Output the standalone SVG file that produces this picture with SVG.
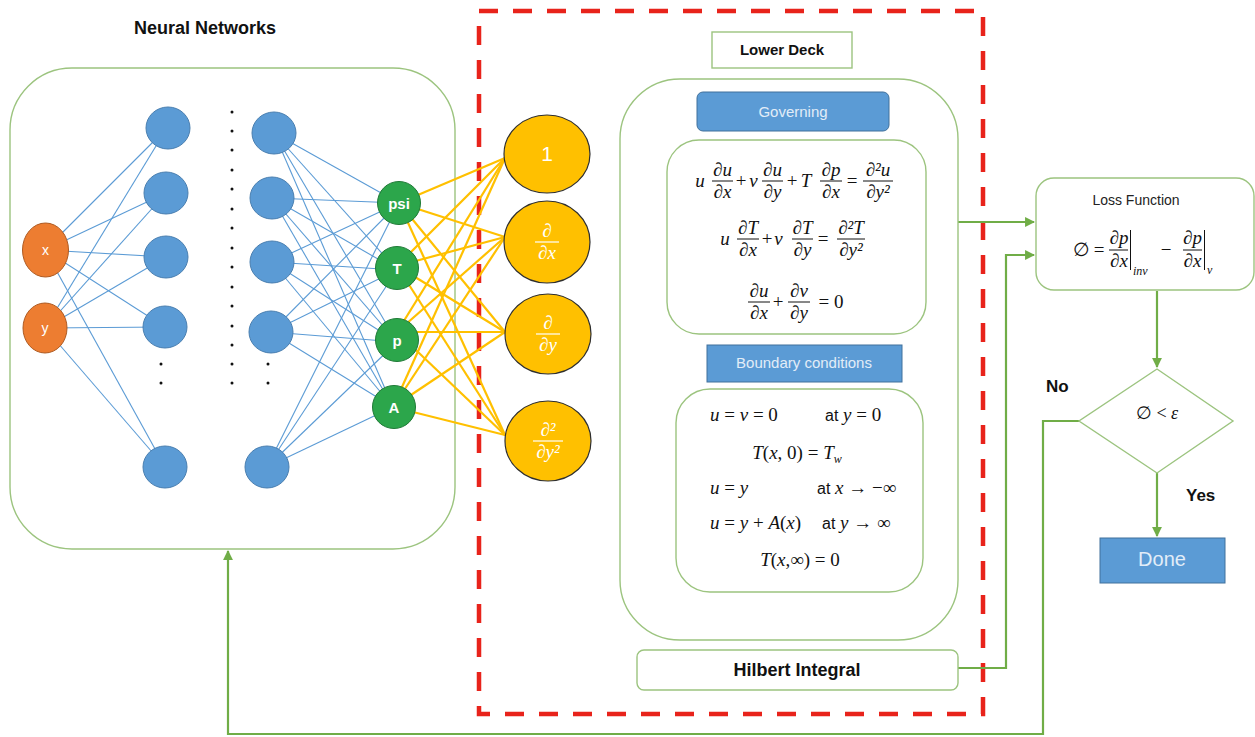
<svg xmlns="http://www.w3.org/2000/svg" width="1255" height="737" viewBox="0 0 1255 737">
<style>
.box{fill:#fff;stroke:#9cc47f;stroke-width:1.4}
.blue{fill:#5b9bd5;stroke:#41719c;stroke-width:1}
.nn{fill:#5b9bd5;stroke:#4a7fb0;stroke-width:1}
.inp{fill:#ed7d31;stroke:#ae5a21;stroke-width:1}
.out{fill:#2ca64b;stroke:#1f7a36;stroke-width:1}
.yel{fill:#ffc000;stroke:#2e2e2e;stroke-width:1.2}
.bl{stroke:#5b9bd5;stroke-width:1.1;fill:none}
.yl{stroke:#ffc000;stroke-width:2.2;fill:none}
.arr{stroke:#70ad47;stroke-width:2.2;fill:none}
.red{fill:none;stroke:#e8231b;stroke-width:4.5;stroke-dasharray:19 15}
.t{font-family:"Liberation Sans",Arial,sans-serif}
.b{font-weight:bold}
.m{font-family:"Liberation Serif","DejaVu Serif",serif;font-size:19px;fill:#111}
.i{font-style:italic}
.c{text-anchor:middle}
.fb{stroke:#111;stroke-width:1}
.wt{fill:#fff}
.lt{fill:#e2edf8}
.dot{fill:#111}
.sub{font-size:12px}
</style>
<defs>
<marker id="ah" viewBox="0 0 10 10" refX="9" refY="5" markerWidth="4.5" markerHeight="4.5" orient="auto" markerUnits="strokeWidth">
<path d="M0,0 L10,5 L0,10 z" fill="#70ad47"/>
</marker>
</defs>

<g id="nn-frame">
<rect class="box" x="10" y="68" width="445" height="481" rx="62"/>
<text class="t b c" x="205" y="34" font-size="18" fill="#111">Neural Networks</text>
</g>

<g id="lower-deck-frame">
<rect class="red" x="479" y="11" width="504" height="703"/>
</g>

<g id="connectors">
<g class="bl">
<line x1="45" y1="250" x2="167" y2="128"/><line x1="45" y1="250" x2="166" y2="193"/><line x1="45" y1="250" x2="166" y2="257"/><line x1="45" y1="250" x2="165" y2="327"/><line x1="45" y1="250" x2="165" y2="467"/>
<line x1="45" y1="328" x2="167" y2="128"/><line x1="45" y1="328" x2="166" y2="193"/><line x1="45" y1="328" x2="166" y2="257"/><line x1="45" y1="328" x2="165" y2="327"/><line x1="45" y1="328" x2="165" y2="467"/>
<line x1="274" y1="133" x2="399" y2="203"/><line x1="274" y1="133" x2="397" y2="270"/><line x1="274" y1="133" x2="397" y2="342"/><line x1="274" y1="133" x2="393" y2="407"/>
<line x1="272" y1="198" x2="399" y2="203"/><line x1="272" y1="198" x2="397" y2="270"/><line x1="272" y1="198" x2="397" y2="342"/><line x1="272" y1="198" x2="393" y2="407"/>
<line x1="272" y1="262" x2="399" y2="203"/><line x1="272" y1="262" x2="397" y2="270"/><line x1="272" y1="262" x2="397" y2="342"/><line x1="272" y1="262" x2="393" y2="407"/>
<line x1="271" y1="332" x2="399" y2="203"/><line x1="271" y1="332" x2="397" y2="270"/><line x1="271" y1="332" x2="397" y2="342"/><line x1="271" y1="332" x2="393" y2="407"/>
<line x1="267" y1="467" x2="399" y2="203"/><line x1="267" y1="467" x2="397" y2="270"/><line x1="267" y1="467" x2="397" y2="342"/><line x1="267" y1="467" x2="393" y2="407"/>
</g>
<g class="yl">
<line x1="399" y1="203" x2="505" y2="158"/><line x1="399" y1="203" x2="505" y2="237"/><line x1="399" y1="203" x2="505" y2="332"/><line x1="399" y1="203" x2="505" y2="435"/>
<line x1="397" y1="266" x2="505" y2="158"/><line x1="397" y1="266" x2="505" y2="237"/><line x1="397" y1="266" x2="505" y2="332"/><line x1="397" y1="266" x2="505" y2="435"/>
<line x1="397" y1="332" x2="505" y2="158"/><line x1="397" y1="332" x2="505" y2="237"/><line x1="397" y1="332" x2="505" y2="332"/><line x1="397" y1="332" x2="505" y2="435"/>
<line x1="393" y1="407" x2="505" y2="158"/><line x1="393" y1="407" x2="505" y2="237"/><line x1="393" y1="407" x2="505" y2="332"/><line x1="393" y1="407" x2="505" y2="435"/>
</g>
<path class="arr" d="M958,222 H1034" marker-end="url(#ah)"/>
<path class="arr" d="M958,668 H1006 V255 H1034" marker-end="url(#ah)"/>
<path class="arr" d="M1157,291 V367" marker-end="url(#ah)"/>
<path class="arr" d="M1157,473 V536" marker-end="url(#ah)"/>
<path class="arr" d="M1079,421 H1043 V734 H228 V551" marker-end="url(#ah)"/>
</g>

<g id="node-x"><ellipse class="inp" cx="45.5" cy="250" rx="23" ry="27"/><text class="t c wt" x="45.5" y="255" font-size="14">x</text></g>
<g id="node-y"><ellipse class="inp" cx="45" cy="328" rx="22" ry="25"/><text class="t c wt" x="45" y="333" font-size="14">y</text></g>

<g id="hidden-1">
<ellipse class="nn" cx="168" cy="128" rx="22" ry="21"/>
<ellipse class="nn" cx="166" cy="193" rx="22" ry="21"/>
<ellipse class="nn" cx="166" cy="257" rx="22" ry="21"/>
<ellipse class="nn" cx="165" cy="327" rx="22" ry="21"/>
<ellipse class="nn" cx="165" cy="467" rx="22" ry="21"/>
<circle class="dot" cx="161" cy="364" r="1.5"/><circle class="dot" cx="161" cy="383" r="1.5"/>
</g>
<g id="dots-middle">
<circle class="dot" cx="232" cy="112" r="1.5"/><circle class="dot" cx="232" cy="131" r="1.5"/><circle class="dot" cx="232" cy="150" r="1.5"/><circle class="dot" cx="232" cy="170" r="1.5"/><circle class="dot" cx="232" cy="189" r="1.5"/><circle class="dot" cx="232" cy="209" r="1.5"/><circle class="dot" cx="232" cy="228" r="1.5"/><circle class="dot" cx="232" cy="248" r="1.5"/><circle class="dot" cx="232" cy="267" r="1.5"/><circle class="dot" cx="232" cy="287" r="1.5"/><circle class="dot" cx="232" cy="306" r="1.5"/><circle class="dot" cx="232" cy="326" r="1.5"/><circle class="dot" cx="232" cy="345" r="1.5"/><circle class="dot" cx="232" cy="364" r="1.5"/><circle class="dot" cx="232" cy="383" r="1.5"/>
</g>
<g id="hidden-n">
<ellipse class="nn" cx="274" cy="133" rx="22" ry="21"/>
<ellipse class="nn" cx="272" cy="198" rx="22" ry="21"/>
<ellipse class="nn" cx="272" cy="262" rx="22" ry="21"/>
<ellipse class="nn" cx="271" cy="332" rx="22" ry="21"/>
<ellipse class="nn" cx="267" cy="467" rx="22" ry="21"/>
<circle class="dot" cx="268" cy="364" r="1.5"/><circle class="dot" cx="268" cy="383" r="1.5"/>
</g>

<g id="node-psi"><circle class="out" cx="399" cy="203" r="21.5"/><text class="t b c wt" x="399" y="208.5" font-size="15">psi</text></g>
<g id="node-T"><circle class="out" cx="397" cy="268" r="21.5"/><text class="t b c wt" x="397" y="273.5" font-size="15">T</text></g>
<g id="node-p"><circle class="out" cx="397" cy="340" r="21.5"/><text class="t b c wt" x="397" y="345.5" font-size="15">p</text></g>
<g id="node-A"><circle class="out" cx="394" cy="407" r="21.5"/><text class="t b c wt" x="394" y="412.5" font-size="15">A</text></g>

<g id="op-1"><ellipse class="yel" cx="547" cy="154" rx="43" ry="39"/><text class="t c wt" x="547" y="161" font-size="21">1</text></g>
<g id="op-dx"><ellipse class="yel" cx="547" cy="242" rx="43" ry="41"/>
<text class="m i c wt" x="547" y="237">∂</text><line x1="535" y1="242" x2="559" y2="242" stroke="#fff" stroke-width="1.2"/><text class="m i c wt" x="547" y="259">∂x</text></g>
<g id="op-dy"><ellipse class="yel" cx="548" cy="334" rx="43" ry="40"/>
<text class="m i c wt" x="548" y="329">∂</text><line x1="536" y1="334" x2="560" y2="334" stroke="#fff" stroke-width="1.2"/><text class="m i c wt" x="548" y="351">∂y</text></g>
<g id="op-dyy"><ellipse class="yel" cx="548" cy="441" rx="43" ry="40"/>
<text class="m i c wt" x="548" y="436">∂²</text><line x1="533" y1="441" x2="563" y2="441" stroke="#fff" stroke-width="1.2"/><text class="m i c wt" x="548" y="458">∂y²</text></g>

<g id="lower-deck-label">
<rect class="box" x="712" y="32" width="140" height="36"/>
<text class="t b c" x="782" y="55" font-size="15" fill="#111">Lower Deck</text>
</g>
<g id="lower-deck-panel">
<rect class="box" x="620" y="79" width="338" height="561" rx="60"/>
</g>

<g id="governing-label">
<rect class="blue" x="697" y="92" width="192" height="39" rx="6"/>
<text class="t c lt" x="793" y="117" font-size="15">Governing</text>
</g>

<g id="governing-eqs">
<rect class="box" x="667" y="140" width="259" height="194" rx="32"/>
<text class="m i c" x="700" y="187">u</text>
<text class="m i c" x="722.5" y="176">∂u</text><line class="fb" x1="712" y1="181" x2="733" y2="181"/><text class="m i c" x="722.5" y="198">∂x</text>
<text class="m c" x="741" y="187">+</text>
<text class="m i c" x="753.5" y="187">v</text>
<text class="m i c" x="772.5" y="176">∂u</text><line class="fb" x1="762" y1="181" x2="783" y2="181"/><text class="m i c" x="772.5" y="198">∂y</text>
<text class="m c" x="792" y="187">+</text>
<text class="m i c" x="806" y="187">T</text>
<text class="m i c" x="831" y="176">∂p</text><line class="fb" x1="820" y1="181" x2="842" y2="181"/><text class="m i c" x="831" y="198">∂x</text>
<text class="m c" x="852" y="187">=</text>
<text class="m i c" x="878" y="176">∂²u</text><line class="fb" x1="863" y1="181" x2="893" y2="181"/><text class="m i c" x="878" y="198">∂y²</text>
<text class="m i c" x="725" y="245">u</text>
<text class="m i c" x="748" y="234">∂T</text><line class="fb" x1="737" y1="239" x2="759" y2="239"/><text class="m i c" x="748" y="256">∂x</text>
<text class="m c" x="767" y="245">+</text>
<text class="m i c" x="778.5" y="245">v</text>
<text class="m i c" x="802.5" y="234">∂T</text><line class="fb" x1="792" y1="239" x2="813" y2="239"/><text class="m i c" x="802.5" y="256">∂y</text>
<text class="m c" x="823" y="245">=</text>
<text class="m i c" x="851" y="234">∂²T</text><line class="fb" x1="837" y1="239" x2="865" y2="239"/><text class="m i c" x="851" y="256">∂y²</text>
<text class="m i c" x="759" y="297">∂u</text><line class="fb" x1="748" y1="302" x2="770" y2="302"/><text class="m i c" x="759" y="319">∂x</text>
<text class="m c" x="778" y="308">+</text>
<text class="m i c" x="799" y="297">∂v</text><line class="fb" x1="788" y1="302" x2="810" y2="302"/><text class="m i c" x="799" y="319">∂y</text>
<text class="m c" x="831" y="308">= 0</text>
</g>

<g id="boundary-label">
<rect class="blue" x="707" y="345" width="195" height="37"/>
<text class="t c lt" x="804" y="368" font-size="15">Boundary conditions</text>
</g>

<g id="boundary-eqs">
<rect class="box" x="676" y="389" width="247" height="203" rx="34"/>
<text class="m" x="710" y="421"><tspan class="i">u</tspan> = <tspan class="i">v</tspan> = 0</text>
<text class="m" x="825" y="421"><tspan class="t" style="font-size:16px">at</tspan>  <tspan class="i">y</tspan> = 0</text>
<text class="m c" x="797" y="459"><tspan class="i">T</tspan>(<tspan class="i">x</tspan>, 0) =  <tspan class="i">T</tspan><tspan class="i sub" dy="4">w</tspan></text>
<text class="m" x="710" y="494"><tspan class="i">u</tspan> = <tspan class="i">y</tspan></text>
<text class="m" x="817" y="494"><tspan class="t" style="font-size:16px">at</tspan> <tspan class="i">x</tspan> → −∞</text>
<text class="m" x="710" y="529"><tspan class="i">u</tspan> = <tspan class="i">y</tspan> + <tspan class="i">A</tspan>(<tspan class="i">x</tspan>)</text>
<text class="m" x="822" y="529"><tspan class="t" style="font-size:16px">at</tspan> <tspan class="i">y</tspan> → ∞</text>
<text class="m c" x="800" y="566"><tspan class="i">T</tspan>(<tspan class="i">x</tspan>,∞) = 0</text>
</g>

<g id="hilbert">
<rect class="box" x="637" y="650" width="321" height="40" rx="7"/>
<text class="t b c" x="797" y="676" font-size="18" fill="#111">Hilbert Integral</text>
</g>

<g id="loss-function">
<rect class="box" x="1036" y="178" width="218" height="112" rx="18"/>
<text class="t c" x="1136" y="205" font-size="14" fill="#222">Loss Function</text>
<text class="m c" x="1081" y="256">∅</text>
<text class="m c" x="1099" y="256">=</text>
<text class="m i c" x="1119" y="244">∂p</text><line class="fb" x1="1109" y1="250" x2="1128" y2="250"/><text class="m i c" x="1119" y="267">∂x</text>
<line class="fb" x1="1130.5" y1="230" x2="1130.5" y2="270"/>
<text class="m i" x="1133" y="275" style="font-size:12px">inv</text>
<text class="m c" x="1166" y="256">−</text>
<text class="m i c" x="1192.5" y="244">∂p</text><line class="fb" x1="1183" y1="250" x2="1202" y2="250"/><text class="m i c" x="1192.5" y="267">∂x</text>
<line class="fb" x1="1204.5" y1="230" x2="1204.5" y2="270"/>
<text class="m i" x="1207" y="274" style="font-size:12px">v</text>
</g>

<g id="decision">
<polygon points="1157,369 1233,421 1157,473 1079,421" fill="#fff" stroke="#9cc47f" stroke-width="1.4"/>
<text class="m c" x="1157" y="419" style="font-size:18px">∅ &lt; <tspan class="i">ε</tspan></text>
<text class="t b" x="1046" y="392" font-size="17" fill="#111">No</text>
<text class="t b" x="1186" y="501" font-size="17" fill="#111">Yes</text>
</g>

<g id="done">
<rect class="blue" x="1100" y="538" width="125" height="45"/>
<text class="t c lt" x="1162" y="566" font-size="20">Done</text>
</g>
</svg>
